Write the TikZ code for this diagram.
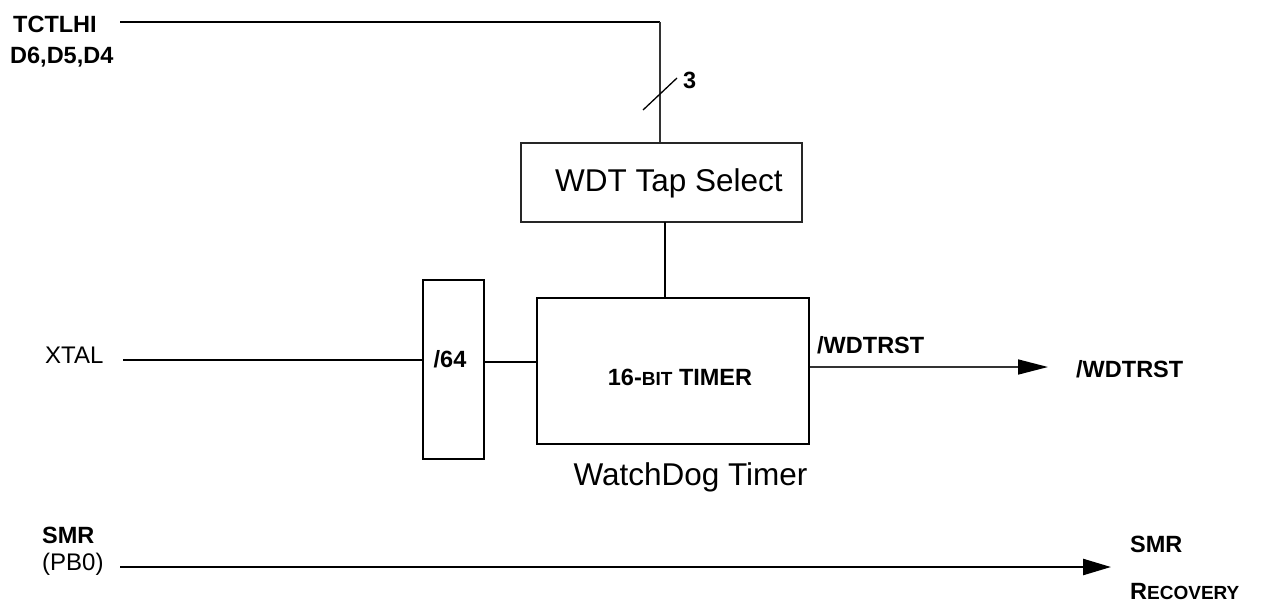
\documentclass[tikz,border=0pt]{standalone}
\usepackage{fontspec}
\setmainfont{Liberation Sans}
\usetikzlibrary{arrows.meta}
\newcommand\smc[1]{{\fontsize{19}{19}\selectfont #1}}
\begin{document}
\begin{tikzpicture}[x=1pt,y=-1pt,
  lbl/.style={anchor=base west,inner sep=0,font=\fontsize{23.5}{23.5}\selectfont\bfseries},
  rlbl/.style={anchor=base west,inner sep=0,font=\fontsize{24}{24}\selectfont},
  big/.style={anchor=base,inner sep=0,font=\fontsize{31.5}{31.5}\selectfont},
  box/.style={draw,line width=2.2pt,inner sep=0},
  thinbox/.style={draw=black!85,line width=1.6pt,inner sep=0},
  wire/.style={line width=2.5pt},
  thinwire/.style={draw=black!80,line width=1.6pt},
  ]
\useasboundingbox (0,0) rectangle (1261,603);
% boxes
\node[thinbox, minimum width=281pt, minimum height=79pt] (tap) at (661.5,182.5) {};
\node[box, minimum width=272pt, minimum height=146pt] (timer) at (673,371) {};
\node[box, minimum width=61pt, minimum height=179pt] (div) at (453.5,369.5) {};
% texts
\node[lbl] (tctl) at (13,32) {TCTLHI};
\node[lbl] (dbits) at (10,63) {D6,D5,D4};
\node[lbl] (three) at (683,88) {3};
\node[rlbl] (xtal) at (45,363) {XTAL};
\node[lbl, anchor=base] (divt) at (450,367) {/64};
\node[lbl, anchor=base] (timt) at (680,385) {16-\smc{BIT} TIMER};
\node[lbl] (wdo) at (817,353) {/WDTRST};
\node[lbl] (wdr) at (1076,377) {/WDTRST};
\node[big, anchor=base west] (tapt) at (555,191) {WDT Tap Select};
\node[big] (wdt) at (690.5,485) {WatchDog Timer};
\node[lbl] (smr) at (42,543) {SMR};
\node[rlbl] (pb0) at (42,570) {(PB0)};
\node[lbl] (smr2) at (1130,552) {SMR};
\node[lbl] (rec) at (1130,599) {R\smc{ECOVERY}};
% connectors
\coordinate (tl) at (120,22);
\coordinate (tc) at (660,22);
\draw[wire] (tl) -- (tc);
\draw[thinwire] (tc) -- (tc |- tap.north);
\coordinate (sl1) at (643,110);
\coordinate (sl2) at (677,78);
\draw[line width=1.3pt] (sl1) -- (sl2);
\coordinate (tb) at (665,222);
\draw[line width=1.6pt] (tb) -- (tb |- timer.north);
\coordinate (x0) at (123,360);
\draw[wire] (x0) -- (x0 -| div.west);
\coordinate (d0) at (0,362);
\draw[wire] (div.east |- d0) -- (timer.west |- d0);
\coordinate (w0) at (0,367);
\coordinate (wtip) at (1048,367);
\draw[thinwire, -{Triangle[length=30pt,width=15pt,fill=black,color=black]}] (timer.east |- w0) -- (wtip);
\coordinate (s0) at (120,567);
\coordinate (stip) at (1111,567);
\draw[line width=2.5pt, -{Triangle[length=28pt,width=16pt]}] (s0) -- (stip);
\end{tikzpicture}
\end{document}
